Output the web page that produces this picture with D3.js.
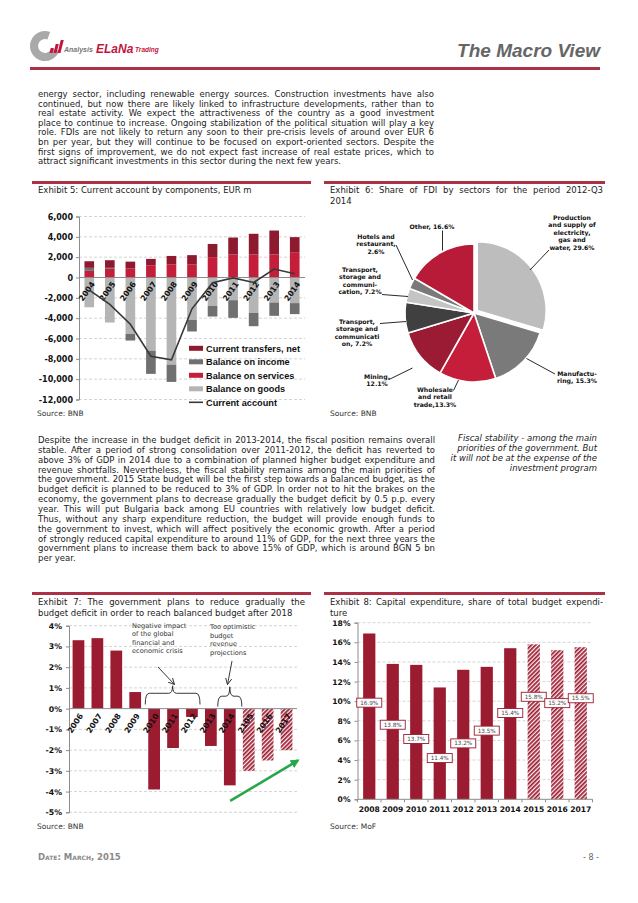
<!DOCTYPE html>
<html>
<head>
<meta charset="utf-8">
<title>The Macro View</title>
<script src="https://cdn.jsdelivr.net/npm/d3@7/dist/d3.min.js"></script>
<style>
  html, body { margin:0; padding:0; background:#fff; }
  svg { display:block; }
</style>
</head>
<body>
<svg id="page" width="638" height="903" viewBox="0 0 638 903"></svg>
<script>
// ================= DATA =================
// Exhibit 5: Current account by components, EUR m
const ex5Years = ["2004","2005","2006","2007","2008","2009","2010","2011","2012","2013","2014"];
const ex5Goods     = [-2930, -4430, -5550, -7200, -8570, -4170, -2800, -2230, -3480, -2460, -2520];
const ex5Services  = [650, 850, 900, 1200, 1300, 1300, 2000, 2260, 2260, 2260, 2490];
const ex5Income    = [300, 100, -650, -2280, -1700, -1140, -1040, -1740, -1310, -1310, -1080];
const ex5Transfers = [650, 750, 660, 630, 820, 900, 1300, 1670, 2040, 2360, 1480];
const ex5CurrentAccount = [-1250, -2650, -4600, -7750, -8100, -3080, -520, -40, -490, 830, 370];
const ex5Ticks = [6000, 4000, 2000, 0, -2000, -4000, -6000, -8000, -10000, -12000];
const ex5LegendNames = ["Current transfers, net", "Balance on income", "Balance on services", "Balance on goods", "Current account"];

// Exhibit 6: Share of FDI by sectors, 2012-Q3 2014
const fdiShares = [29.6, 15.3, 13.3, 12.1, 7.2, 3.3, 2.6, 16.6];
const fdiLabels = [
  ["Production", "and supply of", "electricity,", "gas and", "water, 29.6%"],
  ["Manufactu-", "ring, 15.3%"],
  ["Wholesale", "and retail", "trade,13.3%"],
  ["Mining,", "12.1%"],
  ["Transport,", "storage and", "communicati", "on, 7.2%"],
  ["Transport,", "storage and", "communi-", "cation, 7.2%"],
  ["Hotels and", "restaurant,", "2.6%"],
  ["Other, 16.6%"]
];

// Exhibit 7: Budget balance, % of GDP
const ex7Years = ["2006","2007","2008","2009","2010","2011","2012","2013","2014","2105","2016","2017"];
const ex7Balance = [3.3, 3.4, 2.8, 0.8, -3.9, -1.9, -0.4, -1.8, -3.7, -3.0, -2.5, -2.0];
const ex7Projected = [false,false,false,false,false,false,false,false,false,true,true,true];
const ex7Ticks = [4, 3, 2, 1, 0, -1, -2, -3, -4, -5];
const ex7Note1 = ["Negative impact", "of the global", "financial and", "economic crisis"];
const ex7Note2 = ["Too optimistic", "budget", "revenue", "projections"];

// Exhibit 8: Capital expenditure, share of total budget expenditure
const ex8Years = ["2008","2009","2010","2011","2012","2013","2014","2015","2016","2017"];
const ex8Capex = [16.9, 13.8, 13.7, 11.4, 13.2, 13.5, 15.4, 15.8, 15.2, 15.5];
const ex8Projected = [false,false,false,false,false,false,false,true,true,true];
const ex8LabelAt = [9.85, 7.6, 6.15, 4.2, 5.7, 7.0, 8.8, 10.45, 9.8, 10.3];
const ex8Ticks = [0, 2, 4, 6, 8, 10, 12, 14, 16, 18];

// Text
const para1 = [
  "energy sector, including renewable energy sources. Construction investments have also",
  "continued, but now there are likely linked to infrastructure developments, rather than to",
  "real estate activity. We expect the attractiveness of the country as a good investment",
  "place to continue to increase. Ongoing stabilization of the political situation will play a key",
  "role. FDIs are not likely to return any soon to their pre-crisis levels of around over EUR 6",
  "bn per year, but they will continue to be focused on export-oriented sectors. Despite the",
  "first signs of improvement, we do not expect fast increase of real estate prices, which to",
  "attract significant investments in this sector during the next few years."
];
const para2 = [
  "Despite the increase in the budget deficit in 2013-2014, the fiscal position remains overall",
  "stable. After a period of strong consolidation over 2011-2012, the deficit has reverted to",
  "above 3% of GDP in 2014 due to a combination of planned higher budget expenditure and",
  "revenue shortfalls. Nevertheless, the fiscal stability remains among the main priorities of",
  "the government. 2015 State budget will be the first step towards a balanced budget, as the",
  "budget deficit is planned to be reduced to 3% of GDP. In order not to hit the brakes on the",
  "economy, the government plans to decrease gradually the budget deficit by 0.5 p.p. every",
  "year. This will put Bulgaria back among EU countries with relatively low budget deficit.",
  "Thus, without any sharp expenditure reduction, the budget will provide enough funds to",
  "the government to invest, which will affect positively the economic growth. After a period",
  "of strongly reduced capital expenditure to around 11% of GDP, for the next three years the",
  "government plans to increase them back to above 15% of GDP, which is around BGN 5 bn",
  "per year."
];
const sideNote = [
  "Fiscal stability - among the main",
  "priorities of the government. But",
  "it will not be at the expense of the",
  "investment program"
];
const titles = {
  ex5: ["Exhibit 5: Current account by components, EUR m"],
  ex6: ["Exhibit 6: Share of FDI by sectors for the period 2012-Q3", "2014"],
  ex7: ["Exhibit 7: The government plans to reduce gradually the", "budget deficit in order to reach balanced budget after 2018"],
  ex8: ["Exhibit 8: Capital expenditure, share of total budget expendi-", "ture"]
};

// ================= DRAWING =================
const svg = d3.select("#page");
const SANS = "'DejaVu Sans', Verdana, sans-serif";
const ARIAL = "'Liberation Sans', Arial, sans-serif";
const RULE = "#ab3246";
const MAROON = "#9b1b30";
const TXT = "#1c1c1c";

svg.append("rect").attr("width", 638).attr("height", 903).attr("fill", "#fff");

const defs = svg.append("defs");
const hatch = defs.append("pattern").attr("id", "hatch")
  .attr("patternUnits", "userSpaceOnUse").attr("width", 3).attr("height", 3)
  .attr("patternTransform", "rotate(45)");
hatch.append("rect").attr("width", 3).attr("height", 3).attr("fill", "#fbeef0");
hatch.append("rect").attr("width", 1.7).attr("height", 3).attr("fill", MAROON);
defs.append("marker").attr("id", "openArrow").attr("viewBox", "0 -4 8 8")
  .attr("refX", 7).attr("refY", 0).attr("markerWidth", 7).attr("markerHeight", 7)
  .attr("markerUnits", "userSpaceOnUse").attr("orient", "auto")
  .append("path").attr("d", "M0,-3.5L7,0L0,3.5").attr("fill", "none").attr("stroke", "#222").attr("stroke-width", 1);
defs.append("marker").attr("id", "greenArrow").attr("viewBox", "0 -5 10 10")
  .attr("refX", 8).attr("refY", 0).attr("markerWidth", 9).attr("markerHeight", 9)
  .attr("markerUnits", "userSpaceOnUse").attr("orient", "auto")
  .append("path").attr("d", "M0,-5L10,0L0,5Z").attr("fill", "#26a74b");

function textLines(g, lines, o) {
  lines.forEach((ln, i) => {
    const t = g.append("text")
      .attr("x", o.x).attr("y", o.y + i * o.lh)
      .attr("font-family", o.family || SANS)
      .attr("font-size", o.size)
      .attr("font-weight", o.weight || "normal")
      .attr("font-style", o.style || "normal")
      .attr("fill", o.fill || TXT)
      .attr("text-anchor", o.anchor || "start")
      .text(ln);
    if (o.justify && i < lines.length - 1) {
      const w = t.node().getComputedTextLength();
      const n = (ln.match(/ /g) || []).length;
      if (n > 0) t.style("word-spacing", ((o.width - w) / n) + "px");
    }
  });
}
function rule(x0, x1, y) {
  svg.append("rect").attr("x", x0).attr("y", y).attr("width", x1 - x0).attr("height", 3).attr("fill", RULE);
}
const pctFmt = d => (d < 0 ? "-" : "") + Math.abs(d) + "%";

// ---------- Header ----------
const hdr = svg.append("g");
hdr.append("path").attr("transform", "translate(45,46)")
  .attr("d", d3.arc().innerRadius(7).outerRadius(15).startAngle(1.9).endAngle(2 * Math.PI + 0.35)())
  .attr("fill", "#a9a9a9");
[[49.5, 5], [53.5, 9], [57.5, 13]].forEach(([bx, bh]) => {
  hdr.append("path")
    .attr("d", `M${bx},53L${bx + 3},53L${bx + 3 + bh * 0.25},${53 - bh}L${bx + bh * 0.25},${53 - bh}Z`)
    .attr("fill", "#c3163d");
});
hdr.append("text").attr("x", 64).attr("y", 52).attr("font-family", ARIAL).attr("font-size", 7)
  .attr("font-weight", "bold").attr("font-style", "italic").attr("fill", "#777").text("Analysis");
hdr.append("text").attr("x", 96).attr("y", 53).attr("font-family", ARIAL).attr("font-size", 12)
  .attr("font-weight", "bold").attr("font-style", "italic").attr("fill", "#c3163d").text("ELaNa");
hdr.append("text").attr("x", 135).attr("y", 52).attr("font-family", ARIAL).attr("font-size", 6.5)
  .attr("font-weight", "bold").attr("font-style", "italic").attr("fill", "#c3163d").text("Trading");
hdr.append("text").attr("x", 600).attr("y", 57).attr("text-anchor", "end").attr("font-family", ARIAL)
  .attr("font-size", 19).attr("font-weight", "bold").attr("font-style", "italic").attr("fill", "#666")
  .text("The Macro View");
rule(30, 600, 67);

// ---------- Paragraphs ----------
const body = svg.append("g");
textLines(body, para1, { x: 38, y: 97, lh: 9.6, size: 8.5, justify: true, width: 396 });
textLines(body, para2, { x: 38, y: 443, lh: 9.85, size: 8.5, justify: true, width: 397 });
textLines(body, sideNote, { x: 597, y: 441, lh: 10, size: 8.5, style: "italic", anchor: "end" });

// ---------- Exhibit rules & titles ----------
rule(32, 311, 181);
rule(324, 605, 181);
rule(32, 311, 592);
rule(324, 605, 592);
textLines(svg, titles.ex5, { x: 38, y: 193, lh: 10.8, size: 8.5 });
textLines(svg, titles.ex6, { x: 330, y: 193, lh: 10.8, size: 8.5, justify: true, width: 273 });
textLines(svg, titles.ex7, { x: 38, y: 605, lh: 10.6, size: 8.5, justify: true, width: 267 });
textLines(svg, titles.ex8, { x: 330, y: 605, lh: 10.6, size: 8.5, justify: true, width: 273 });

function source(x, y, t) {
  svg.append("text").attr("x", x).attr("y", y).attr("font-family", SANS).attr("font-size", 7.5)
    .attr("fill", "#333").text(t);
}
source(37, 416, "Source: BNB");
source(330, 416, "Source: BNB");
source(37, 829, "Source: BNB");
source(330, 829, "Source: MoF");

// ---------- Exhibit 5 ----------
(function () {
  const g = svg.append("g");
  const x = d3.scaleBand().domain(ex5Years).range([79, 305]).paddingInner(0.53).paddingOuter(0.265);
  const y = d3.scaleLinear().domain([-12000, 6000]).range([399.5, 216.5]);
  const rows = ex5Years.map((yr, i) => ({
    year: yr, goods: ex5Goods[i], services: ex5Services[i], income: ex5Income[i],
    transfers: ex5Transfers[i], ca: ex5CurrentAccount[i]
  }));
  const keys = ["goods", "services", "income", "transfers"];
  const colors = { goods: "#b5b5b5", services: "#c41e3a", income: "#707070", transfers: "#8e1a2f" };

  g.selectAll("line.grid").data(ex5Ticks.filter(d => d !== 0)).join("line")
    .attr("x1", 79).attr("x2", 305).attr("y1", d => y(d)).attr("y2", d => y(d))
    .attr("stroke", "#c9c9c9").attr("stroke-width", 0.8).attr("stroke-dasharray", "3,2");

  const stacked = d3.stack().keys(keys).offset(d3.stackOffsetDiverging)(rows);
  g.selectAll("g.series").data(stacked).join("g").attr("fill", d => colors[d.key])
    .selectAll("rect").data(d => d).join("rect")
    .attr("x", d => x(d.data.year)).attr("width", x.bandwidth())
    .attr("y", d => y(Math.max(d[0], d[1])))
    .attr("height", d => Math.abs(y(d[0]) - y(d[1])));

  g.append("line").attr("x1", 79).attr("x2", 305).attr("y1", y(0)).attr("y2", y(0))
    .attr("stroke", "#8c8c8c").attr("stroke-width", 1);

  const ax = g.append("g").attr("transform", "translate(79,0)")
    .call(d3.axisLeft(y).tickValues(ex5Ticks).tickSize(3).tickPadding(3)
      .tickFormat(d => d3.format(",")(d).replace("\u2212", "-")));
  ax.select(".domain").attr("stroke", "#8c8c8c");
  ax.selectAll(".tick line").attr("stroke", "#8c8c8c");
  ax.selectAll("text").attr("font-family", SANS).attr("font-size", 8).attr("font-weight", "bold").attr("fill", "#111");

  g.selectAll("text.yr").data(ex5Years).join("text")
    .attr("transform", d => `translate(${x(d) + x.bandwidth() / 2 + 6},${y(0) + 6.5}) rotate(-55)`)
    .attr("text-anchor", "end").attr("font-family", SANS).attr("font-size", 7.8).attr("font-weight", "bold")
    .attr("fill", "#111").text(d => d);

  g.append("path").datum(rows)
    .attr("d", d3.line().x(d => x(d.year) + x.bandwidth() / 2).y(d => y(d.ca)))
    .attr("fill", "none").attr("stroke", "#383838").attr("stroke-width", 1.6);

  const legColors = [colors.transfers, colors.income, colors.services, colors.goods, null];
  const lg = g.append("g");
  ex5LegendNames.forEach((name, i) => {
    const cy = 348.3 + i * 13.5;
    if (legColors[i]) {
      lg.append("rect").attr("x", 189).attr("y", cy - 2.5).attr("width", 14).attr("height", 5).attr("fill", legColors[i]);
    } else {
      lg.append("line").attr("x1", 189).attr("x2", 203).attr("y1", cy).attr("y2", cy).attr("stroke", "#383838").attr("stroke-width", 1.6);
    }
    lg.append("text").attr("x", 206).attr("y", cy + 3.2).attr("font-family", ARIAL).attr("font-size", 9.2)
      .attr("font-weight", "bold").attr("fill", "#111").text(name);
  });
})();

// ---------- Exhibit 6 ----------
(function () {
  const g = svg.append("g").attr("transform", "translate(474,313)");
  const colors = ["#bdbdbd", "#7a7a7a", "#c41e3a", "#9a1b33", "#404040", "#c4c4c4", "#7a7a7a", "#b81b38"];
  const arcs = d3.pie().sort(null).value(d => d)(fdiShares);
  const arc = d3.arc().innerRadius(0).outerRadius(69);
  g.selectAll("path").data(arcs).join("path")
    .attr("transform", (d, i) => {
      if (i !== 0) return null;
      const a = (d.startAngle + d.endAngle) / 2;
      return `translate(${Math.sin(a) * 4},${-Math.cos(a) * 4})`;
    })
    .attr("d", arc).attr("fill", (d, i) => colors[i]).attr("stroke", "#fff").attr("stroke-width", 1.6);

  // label layout (absolute page coordinates)
  const layout = [
    { x: 572, y: 220, lead: [549, 250, 530, 270] },
    { x: 577, y: 375.5, lead: [555, 374, 526.5, 358.5] },
    { x: 435, y: 392, lead: [453.5, 390.5, 458.5, 380] },
    { x: 377, y: 379, lead: [389, 379.5, 412.5, 368] },
    { x: 357, y: 324, lead: [380, 323.5, 406, 321.5] },
    { x: 360, y: 272, lead: [382, 294.5, 408, 296.5] },
    { x: 376, y: 239, lead: [396, 245, 412.5, 280] },
    { x: 432, y: 228.5, lead: [442.5, 230.5, 442.5, 250.5] }
  ];
  const lab = svg.append("g");
  fdiLabels.forEach((lines, i) => {
    const L = layout[i];
    lab.append("line").attr("x1", L.lead[0]).attr("y1", L.lead[1]).attr("x2", L.lead[2]).attr("y2", L.lead[3])
      .attr("stroke", "#111").attr("stroke-width", 0.9);
    textLines(lab, lines, { x: L.x, y: L.y, lh: 7.4, size: 6.2, weight: "bold", anchor: "middle", fill: "#111" });
  });
})();

// ---------- Exhibit 7 ----------
(function () {
  const g = svg.append("g");
  const x = d3.scaleBand().domain(ex7Years).range([69, 296]).paddingInner(0.38).paddingOuter(0.19);
  const y = d3.scaleLinear().domain([-5, 4]).range([812.3, 625.7]);
  g.selectAll("line.grid").data(ex7Ticks.filter(d => d !== 0)).join("line")
    .attr("x1", 69).attr("x2", 297).attr("y1", d => y(d)).attr("y2", d => y(d))
    .attr("stroke", "#c9c9c9").attr("stroke-width", 0.8).attr("stroke-dasharray", "3,2");
  g.selectAll("rect.bar").data(ex7Balance).join("rect")
    .attr("x", (d, i) => x(ex7Years[i])).attr("width", x.bandwidth())
    .attr("y", d => y(Math.max(0, d))).attr("height", d => Math.abs(y(d) - y(0)))
    .attr("fill", (d, i) => ex7Projected[i] ? "url(#hatch)" : MAROON);
  g.append("line").attr("x1", 69).attr("x2", 297).attr("y1", y(0)).attr("y2", y(0))
    .attr("stroke", "#8c8c8c").attr("stroke-width", 1);
  const ax = g.append("g").attr("transform", "translate(69,0)")
    .call(d3.axisLeft(y).tickValues(ex7Ticks).tickSize(3).tickPadding(4).tickFormat(pctFmt));
  ax.select(".domain").attr("stroke", "#8c8c8c");
  ax.selectAll(".tick line").attr("stroke", "#8c8c8c");
  ax.selectAll("text").attr("font-family", SANS).attr("font-size", 7.8).attr("font-weight", "bold").attr("fill", "#111");

  g.selectAll("text.yr").data(ex7Years).join("text")
    .attr("transform", d => `translate(${x(d) + x.bandwidth() / 2 + 5},${y(0) + 7}) rotate(-57)`)
    .attr("text-anchor", "end").attr("font-family", SANS).attr("font-size", 7.8).attr("font-weight", "bold")
    .attr("fill", "#111").text(d => d);

  // annotations
  textLines(g, ex7Note1, { x: 132, y: 627.5, lh: 8.5, size: 6.6, fill: "#333" });
  textLines(g, ex7Note2, { x: 210, y: 629, lh: 8.5, size: 6.6, fill: "#333" });
  function brace(x0, x1, yTop, yEnd, yPeak) {
    const xm = (x0 + x1) / 2;
    g.append("path")
      .attr("d", `M${x0},${yEnd}Q${x0},${yTop} ${x0 + 4},${yTop}L${xm - 4},${yTop}Q${xm},${yTop} ${xm},${yPeak}` +
        `Q${xm},${yTop} ${xm + 4},${yTop}L${x1 - 4},${yTop}Q${x1},${yTop} ${x1},${yEnd}`)
      .attr("fill", "none").attr("stroke", "#222").attr("stroke-width", 0.9);
  }
  brace(x("2010") - 3, x("2012") + x.step() - 5, y(0.74), y(0.2), y(1.1));
  brace(x("2013") + x.bandwidth() + 1, x("2014") + x.step() - 1, y(0.6), y(0.1), y(1.05));
  g.append("line").attr("x1", 158).attr("y1", 667).attr("x2", 174.5).attr("y2", 684.5)
    .attr("stroke", "#222").attr("stroke-width", 0.9).attr("marker-end", "url(#openArrow)");
  g.append("line").attr("x1", 232).attr("y1", 661).attr("x2", 227.5).attr("y2", 684.5)
    .attr("stroke", "#222").attr("stroke-width", 0.9).attr("marker-end", "url(#openArrow)");
  g.append("line").attr("x1", x("2014") + x.step() * 0.33).attr("y1", y(-4.45))
    .attr("x2", 298).attr("y2", y(-2.5))
    .attr("stroke", "#26a74b").attr("stroke-width", 2.6).attr("marker-end", "url(#greenArrow)");
})();

// ---------- Exhibit 8 ----------
(function () {
  const g = svg.append("g");
  const x = d3.scaleBand().domain(ex8Years).range([357.5, 592.5]).paddingInner(0.48).paddingOuter(0.24);
  const y = d3.scaleLinear().domain([0, 18]).range([799.3, 622.7]);
  g.selectAll("line.grid").data(ex8Ticks.filter(d => d !== 0)).join("line")
    .attr("x1", 357.5).attr("x2", 592).attr("y1", d => y(d)).attr("y2", d => y(d))
    .attr("stroke", "#c9c9c9").attr("stroke-width", 0.8).attr("stroke-dasharray", "3,2");
  g.selectAll("rect.bar").data(ex8Capex).join("rect")
    .attr("x", (d, i) => x(ex8Years[i])).attr("width", x.bandwidth())
    .attr("y", d => y(d)).attr("height", d => y(0) - y(d))
    .attr("fill", (d, i) => ex8Projected[i] ? "url(#hatch)" : MAROON);
  const ax = g.append("g").attr("transform", "translate(357.5,0)")
    .call(d3.axisLeft(y).tickValues(ex8Ticks).tickSize(3).tickPadding(4).tickFormat(pctFmt));
  ax.select(".domain").attr("stroke", "#8c8c8c");
  ax.selectAll(".tick line").attr("stroke", "#8c8c8c");
  ax.selectAll("text").attr("font-family", SANS).attr("font-size", 7.6).attr("font-weight", "bold").attr("fill", "#111");
  g.append("line").attr("x1", 357.5).attr("x2", 592.5).attr("y1", y(0)).attr("y2", y(0)).attr("stroke", "#8c8c8c");
  const bounds = ex8Years.map(d => x(d) - x.step() * x.paddingInner() / 2).concat([592.5]);
  g.selectAll("line.xt").data(bounds).join("line")
    .attr("x1", d => d).attr("x2", d => d).attr("y1", y(0)).attr("y2", y(0) + 3).attr("stroke", "#8c8c8c");
  g.selectAll("text.yr").data(ex8Years).join("text")
    .attr("x", d => x(d) + x.bandwidth() / 2).attr("y", y(0) + 13)
    .attr("text-anchor", "middle").attr("font-family", SANS).attr("font-size", 7.6).attr("font-weight", "bold")
    .attr("fill", "#111").text(d => d);
  ex8Capex.forEach((v, i) => {
    const cx = x(ex8Years[i]) + x.bandwidth() / 2, cy = y(ex8LabelAt[i]);
    g.append("rect").attr("x", cx - 12.5).attr("y", cy - 4.5).attr("width", 25).attr("height", 9)
      .attr("fill", "#fff").attr("stroke", MAROON).attr("stroke-width", 0.9);
    g.append("text").attr("x", cx).attr("y", cy + 2.1).attr("text-anchor", "middle")
      .attr("font-family", SANS).attr("font-size", 5.7).attr("fill", "#444").text(d3.format(".1f")(v) + "%");
  });
})();

// ---------- Footer ----------
svg.append("text").attr("x", 38).attr("y", 860).attr("font-family", SANS).attr("font-size", 8.5)
  .attr("font-weight", "bold").attr("fill", "#8a8a8a").style("font-variant", "small-caps").text("Date: March, 2015");
svg.append("text").attr("x", 591).attr("y", 860).attr("text-anchor", "middle").attr("font-family", SANS)
  .attr("font-size", 8).attr("fill", "#666").text("- 8 -");
</script>
</body>
</html>
